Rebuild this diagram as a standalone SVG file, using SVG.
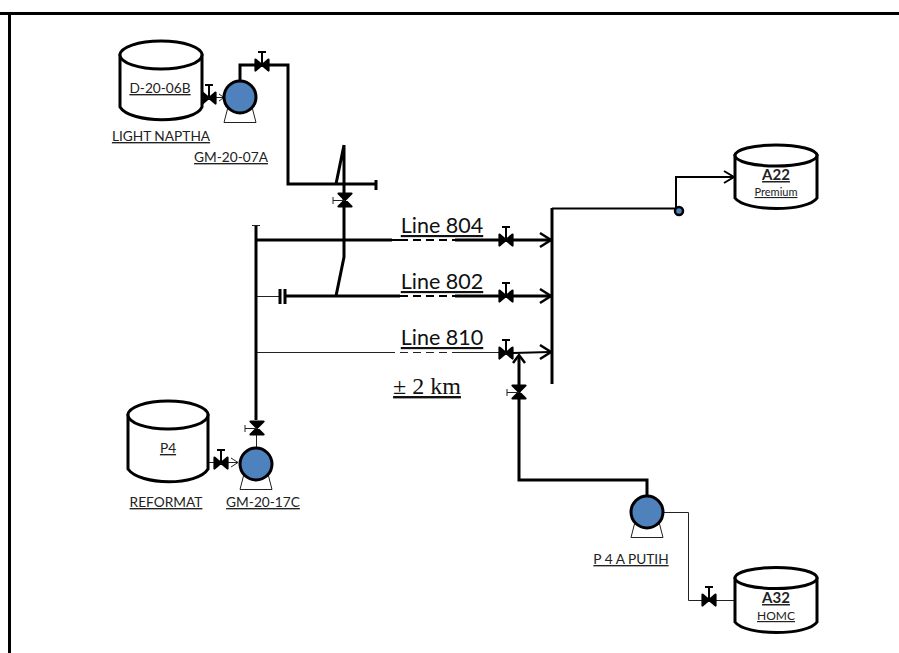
<svg xmlns="http://www.w3.org/2000/svg" width="899" height="653" viewBox="0 0 899 653">
<style>
text{font-family:Lato,"Liberation Sans",sans-serif;font-size:13.700px;fill:#222;text-decoration:underline;text-anchor:middle}
.tank{fill:#fff;stroke:#000;stroke-width:3}
.thick{fill:none;stroke:#000;stroke-width:3}
.med{fill:none;stroke:#000;stroke-width:2}
.thin{fill:none;stroke:#222;stroke-width:1}
.pb{fill:#4f81bd;stroke:#000;stroke-width:3}
.leg{fill:#fff;stroke:#222;stroke-width:1}
text.line{font-size:21.500px;fill:#111}
text.bold{font-weight:700;font-size:15px}
</style>
<defs>
<g id="valve"><path d="M-6.500,-5.500 L6.500,5.500 L6.500,-5.500 L-6.500,5.500 Z" fill="#000" stroke="#000" stroke-width="2.200" stroke-linejoin="round"/><path d="M0,0V-13M-4,-13H4" fill="none" stroke="#000" stroke-width="2"/></g>
<g id="valveV"><path d="M-6.500,-6.500 L6.500,6.500 L-6.500,6.500 L6.500,-6.500 Z" fill="#000" stroke="#000" stroke-width="2.200" stroke-linejoin="round"/><path d="M0,0.500H-12M-12,-3V4" fill="none" stroke="#222" stroke-width="1"/></g>
<g id="pump"><path d="M-12,10 L-16,25.500 H16 L12,10" class="leg"/><circle r="16" class="pb"/></g>
</defs>
<path d="M0,13.500H899M9.500,13.500V653" fill="none" stroke="#000" stroke-width="3"/>
<g id="connectors">
<path class="thick" d="M240,80V65H288V184H376M376,180V190"/>
<path class="thick" d="M344,145V257L336,296M336,184L344,145"/>
<path class="thick" d="M256,226V420"/>
<path class="thin" d="M252,225.500H260"/>
<path class="thin" d="M256.500,427V447"/>
<path class="thick" d="M257,240H392"/>
<path class="med" d="M392,240H400"/><path class="med" stroke-dasharray="8,5" d="M400,240H455"/>
<path class="thick" d="M455,240H500M500,240H550"/>
<path class="thin" d="M257,296.500H280"/><path class="thick" d="M280,289V304M285,289V304M285,296H392"/>
<path class="med" stroke-dasharray="8,5" d="M400,296H455"/><path class="thick" d="M392,296H400M455,296H550"/>
<path class="thin" d="M257,352.500H395"/><path class="thin" stroke-dasharray="8,5" d="M400,352.500H455"/>
<path class="thin" d="M455,352.500H500"/><path class="med" d="M513,353L550,352"/>
<path class="med" stroke-width="2.500" style="stroke-width:2.500" d="M540,233L551,240L540,247M540,289L551,296L540,303M540,345L551,352L540,359"/>
<path class="thick" d="M552,208V384"/>
<path class="med" d="M552,208.500H679M676,208V177H733M724,171L734,177L724,183"/>
<path class="thick" d="M519,356V480H647V496"/>
<path class="med" style="stroke-width:2.500" d="M513,363L519,355L525,363"/>
<path class="thin" d="M664,512.500H688.500V600.500H735"/>
<path class="thin" d="M200,97.500H224M219,94L224,97.500L219,101"/>
<path class="thin" d="M208,462.500H238M231,458L238,462.500L231,467"/>
</g>
<g id="valves">
<use href="#valve" x="262" y="65"/>
<use href="#valve" x="209" y="98"/>
<use href="#valveV" x="345" y="200"/>
<use href="#valve" x="506" y="240"/>
<use href="#valve" x="506" y="296"/>
<use href="#valve" x="506" y="353"/>
<use href="#valveV" x="519" y="392"/>
<use href="#valveV" x="257" y="428"/>
<use href="#valve" x="221" y="463"/>
<use href="#valve" x="709" y="600"/>
</g>
<g id="tank-d2006b"><path class="tank" d="M120,55V107C130,124 195,124 202,107V55Z"/><ellipse class="tank" cx="161" cy="55" rx="41" ry="14"/><text x="160" y="93">D-20-06B</text><text x="161" y="141">LIGHT NAPTHA</text></g>
<g id="pump-gm2007a"><use href="#pump" x="240" y="97"/><text x="231" y="162">GM-20-07A</text></g>
<g id="tank-p4"><path class="tank" d="M128,415V469C140,486 198,486 208,469V415Z"/><ellipse class="tank" cx="168" cy="415" rx="40" ry="14"/><text x="168" y="453">P4</text><text x="166" y="507">REFORMAT</text></g>
<g id="pump-gm2017c"><use href="#pump" x="256" y="464"/><text x="263" y="507">GM-20-17C</text></g>
<g id="pump-p4a"><use href="#pump" x="647" y="512"/><text x="631" y="564">P 4 A PUTIH</text></g>
<g id="tank-a22"><path class="tank" d="M735,155.500V198C745,212 808,212 817,198V155.500Z"/><ellipse class="tank" cx="776" cy="155.500" rx="41" ry="10.500"/><text class="bold" x="776" y="180">A22</text><text x="776" y="196" style="font-size:11px">Premium</text></g>
<g id="tank-a32"><path class="tank" d="M735,578V622C745,636 808,636 817,622V578Z"/><ellipse class="tank" cx="776" cy="578" rx="41" ry="10.500"/><text class="bold" x="776" y="603">A32</text><text x="776" y="620" style="font-size:12px">HOMC</text></g>
<g id="junction"><circle cx="679" cy="211" r="4" fill="#4f81bd" stroke="#000" stroke-width="2.500"/></g>
<g id="labels">
<text class="line" x="442" y="233">Line 804</text>
<text class="line" x="442" y="289">Line 802</text>
<text class="line" x="442" y="345">Line 810</text>
<text x="427" y="394" style="font-family:'Liberation Serif',serif;font-size:24px;fill:#111">± 2 km</text>
</g>
</svg>
